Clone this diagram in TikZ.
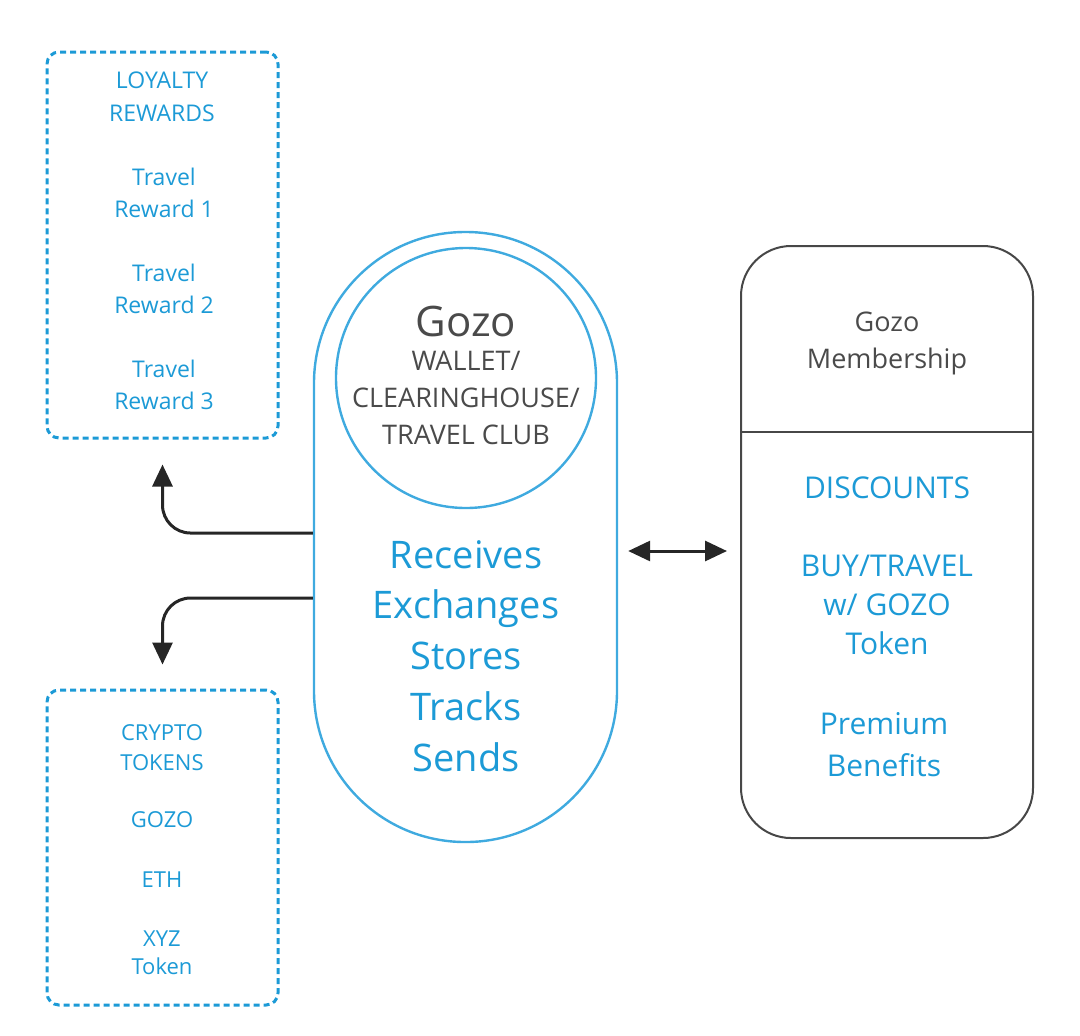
\documentclass[tikz,border=0pt]{standalone}
\usepackage{fontspec}
\setmainfont{Open Sans}
\usetikzlibrary{arrows.meta, positioning, calc}
\definecolor{cblue}{HTML}{1C9AD6}
\definecolor{cline}{HTML}{3FAADF}
\definecolor{cgrey}{HTML}{4A4A4A}
\definecolor{cdark}{HTML}{262626}
\tikzset{
  every picture/.style={x=0.5pt, y=-0.5pt},
  dotbox/.style={draw=cblue, line width=1.5pt, dash pattern=on 3pt off 2pt, rounded corners=6pt, minimum width=115.5pt, inner sep=0pt},
  capsule/.style={draw=cline, line width=1.2pt, rounded corners=75.5pt, minimum width=151.5pt, minimum height=305pt, inner sep=0pt},
  core/.style={draw=cline, line width=1.2pt, circle, minimum size=130pt, inner sep=0pt},
  panel/.style={draw=cdark!85, line width=1pt, rounded corners=25pt, minimum width=146pt, minimum height=296pt, inner sep=0pt},
  arrow/.style={-{Triangle[length=11pt, width=10pt]}, draw=cdark, line width=1.5pt},
  dblarrow/.style={{Triangle[length=11pt, width=10pt]}-{Triangle[length=11pt, width=10pt]}, draw=cdark, line width=1.5pt},
  lbl/.style={text=cblue, align=center, inner sep=0pt},
  dark/.style={text=cgrey, align=center, inner sep=0pt},
}

\begin{document}
\begin{tikzpicture}
  \useasboundingbox (0,0) rectangle (1080,1035);
  \node[dotbox, minimum height=193pt] (loyalty) at (162.5,245) {};
  \node[dotbox, minimum height=157.5pt] (crypto) at (162.5,847.5) {};
  \node[capsule] (wallet) at (465.5,537) {};
  \node[core] (hub) at (466,378) {};
  \node[panel] (member) at (887,542) {};
  \coordinate (split) at (0,432);
  \coordinate (link) at (0,551);
  \draw[cdark!85, line width=1pt] (member.west |- split) -- (member.east |- split);

  \node[lbl, font=\fontsize{11.5}{16.5}\selectfont] (lr) at (162,97) {LOYALTY\\REWARDS};
  \foreach \k/\y in {1/193,2/289,3/385}
    \node[lbl, font=\fontsize{11.5}{16}\selectfont] (tr\k) at (164,\y) {Travel\\Reward \k};

  \node[lbl, font=\fontsize{11}{15}\selectfont] (ct) at (162,748) {CRYPTO\\TOKENS};
  \node[lbl, font=\fontsize{11}{15}\selectfont] (gz) at (162,820) {GOZO};
  \node[lbl, font=\fontsize{11}{15}\selectfont] (eth) at (162,880) {ETH};
  \node[lbl, font=\fontsize{11}{14}\selectfont] (xyz) at (162,953) {XYZ\\Token};

  \node[dark, font=\fontsize{21}{24}\selectfont] (gozo) at (466,321) {Gozo};
  \node[dark, font=\fontsize{13.5}{18.5}\selectfont] (role) at (466,398) {WALLET/\\CLEARINGHOUSE/\\TRAVEL CLUB};
  \node[lbl, font=\fontsize{19}{25.4}\selectfont] (acts) at (466,656) {Receives\\Exchanges\\Stores\\Tracks\\Sends};

  \node[dark, font=\fontsize{13.5}{18.5}\selectfont] (mtitle) at (887,343) {Gozo\\Membership};
  \node[lbl, font=\fontsize{15}{19.5}\selectfont] (disc) at (887,488) {DISCOUNTS};
  \node[lbl, font=\fontsize{15}{19.5}\selectfont] (buy) at (887,605) {BUY/TRAVEL\\w/ GOZO\\Token};
  \node[lbl, font=\fontsize{15}{21}\selectfont] (prem) at (884,745) {Premium\\Benefits};

  \draw[arrow, rounded corners=14pt] ($(wallet.west)+(0,-4)$) -| ([yshift=-12.5pt]loyalty.south);
  \draw[arrow, rounded corners=14pt] ($(wallet.west)+(0,61)$) -| ([yshift=12pt]crypto.north);
  \draw[dblarrow, shorten <=5pt, shorten >=6.5pt] (wallet.east |- link) -- (member.west |- link);
\end{tikzpicture}
\end{document}
